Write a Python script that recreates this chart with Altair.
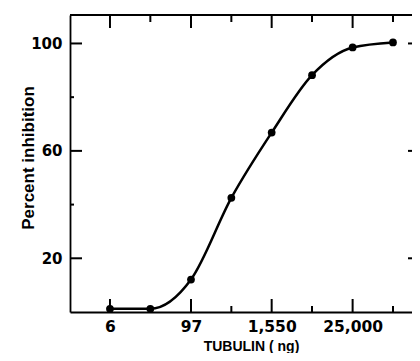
import math
import altair as alt
import pandas as pd

# Data
tubulin_ng = [6, 24, 97, 388, 1550, 6200, 25000, 100000]
percent_inhibition = [1.2, 1.2, 12.1, 42.5, 66.8, 88.2, 98.5, 100.4]

x_major_ticks = [6, 97, 1550, 25000]
x_minor_ticks = [24, 388, 6200, 100000]
y_major_ticks = [20, 60, 100]
y_minor_ticks = [40, 80]

W, H = 350, 297
X_DOMAIN = [1.52, 253000]
Y_DOMAIN = [0, 110.6]

df = pd.DataFrame({"tubulin": tubulin_ng, "pct": percent_inhibition})

# tick lengths (pixels) converted to data units so ticks go through the scales
def ylen(px):
    return px * (Y_DOMAIN[1] - Y_DOMAIN[0]) / H

def xat(px):
    lo, hi = math.log10(X_DOMAIN[0]), math.log10(X_DOMAIN[1])
    return 10 ** (lo + px / W * (hi - lo))

vt = []
for v in x_major_ticks:
    vt.append({"tubulin": v, "pct": Y_DOMAIN[0], "pct2": Y_DOMAIN[0] + ylen(13)})
    vt.append({"tubulin": v, "pct": Y_DOMAIN[1], "pct2": Y_DOMAIN[1] - ylen(13)})
for v in x_minor_ticks:
    vt.append({"tubulin": v, "pct": Y_DOMAIN[0], "pct2": Y_DOMAIN[0] + ylen(6)})
    vt.append({"tubulin": v, "pct": Y_DOMAIN[1], "pct2": Y_DOMAIN[1] - ylen(7)})
vt_df = pd.DataFrame(vt)

ht = []
for v in y_major_ticks:
    ht.append({"pct": v, "tubulin": X_DOMAIN[0], "tubulin2": xat(12)})
    ht.append({"pct": v, "tubulin": xat(W - 12), "tubulin2": X_DOMAIN[1]})
for v in y_minor_ticks:
    ht.append({"pct": v, "tubulin": X_DOMAIN[0], "tubulin2": xat(4)})
    ht.append({"pct": v, "tubulin": xat(W - 5), "tubulin2": X_DOMAIN[1]})
# top frame line
ht.append({"pct": Y_DOMAIN[1], "tubulin": X_DOMAIN[0], "tubulin2": X_DOMAIN[1]})
ht_df = pd.DataFrame(ht)

xs = alt.Scale(type="log", domain=X_DOMAIN, nice=False)
ys = alt.Scale(domain=Y_DOMAIN, nice=False, zero=False)

x_axis = alt.Axis(
    orient="bottom", values=x_major_ticks, format=",", ticks=False, grid=False,
    domain=True, domainColor="black", domainWidth=1.8,
    labelFont="DejaVu Sans", labelFontWeight="bold", labelFontSize=15.5,
    labelColor="black", labelPadding=7,
    title="TUBULIN ( ng)", titleFont="Liberation Sans", titleFontWeight="bold",
    titleFontSize=14, titleColor="black", titleX=181, titleY=38,
    titleAlign="center", titleBaseline="alphabetic",
)
y_axis = alt.Axis(
    orient="left", values=y_major_ticks, ticks=False, grid=False,
    domain=True, domainColor="black", domainWidth=1.8,
    labelFont="DejaVu Sans", labelFontWeight="bold", labelFontSize=15,
    labelColor="black", labelPadding=8,
    title="Percent inhibition", titleFont="Liberation Sans", titleFontWeight="bold",
    titleFontSize=17, titleColor="black", titleAngle=270, titleX=-37, titleY=142.5,
    titleAlign="center", titleBaseline="alphabetic",
)

X = lambda f: alt.X(f, scale=xs, axis=x_axis)
Y = lambda f: alt.Y(f, scale=ys, axis=y_axis)

line = alt.Chart(df).mark_line(interpolate="monotone", color="black", strokeWidth=2.5).encode(
    x=X("tubulin:Q"), y=Y("pct:Q"))
points = alt.Chart(df).mark_circle(size=60, color="black", opacity=1).encode(
    x=X("tubulin:Q"), y=Y("pct:Q"))

vticks = alt.Chart(vt_df).mark_rule(color="black", strokeWidth=2).encode(
    x=X("tubulin:Q"), y=Y("pct:Q"), y2="pct2:Q")
hticks = alt.Chart(ht_df).mark_rule(color="black", strokeWidth=2).encode(
    y=Y("pct:Q"), x=X("tubulin:Q"), x2="tubulin2:Q")

chart = alt.layer(line, points, vticks, hticks).properties(
    width=W, height=H,
    autosize="none",
    padding={"left": 62, "top": 7, "right": -8, "bottom": 41},
    background="white",
).configure_view(stroke=None)

chart.save("out.html", embed_options={"renderer": "svg", "actions": False})
